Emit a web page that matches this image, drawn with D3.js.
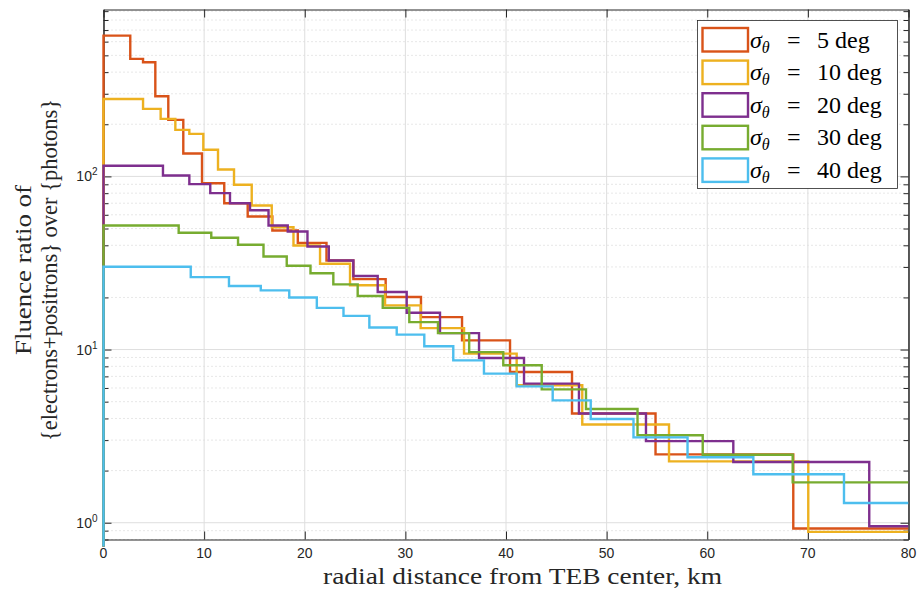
<!DOCTYPE html>
<html>
<head>
<meta charset="utf-8">
<script src="https://cdn.jsdelivr.net/npm/d3@7"></script>
<style>
  body { margin: 0; background: #fff; }
  svg { display: block; }
</style>
</head>
<body>
<svg id="chart" width="923" height="592"></svg>
<script>
// sigma_theta labels, in deg
const sigmaLabels = ['5', '10', '20', '30', '40']
const seriesColors = ['#D95319', '#EDB120', '#7E2F8E', '#77AC30', '#4DBEEE']

// bin edges (km) and fluence ratio per bin
const edges5 = [0, 2.66, 3.93, 5.15, 6.44, 7.93, 9.79, 12.0, 14.33, 16.78, 19.31, 22.16, 24.83, 28.04, 31.55, 35.63, 40.40, 46.56, 54.86, 68.55, 80]
const ratio5 = [650, 477, 456, 290, 212, 135.6, 91.3, 70.0, 58.7, 48.7, 41.3, 32.7, 25.5, 20.1, 15.4, 11.3, 7.42, 4.27, 2.48, 0.926]

const edges10 = [0, 3.93, 5.68, 7.14, 8.53, 9.92, 11.38, 12.97, 14.73, 16.72, 18.88, 21.52, 24.5, 27.98, 31.52, 35.83, 41.06, 47.58, 56.2, 70.04, 80]
const ratio10 = [280, 245.5, 215, 185.7, 176.1, 142.4, 109.6, 89.4, 67.9, 50.9, 39.9, 31.3, 23.5, 18.0, 13.3, 9.47, 6.22, 3.69, 2.26, 0.885]

const edges20 = [0, 5.91, 8.53, 10.61, 12.57, 14.56, 16.4, 18.31, 20.27, 22.39, 24.83, 27.25, 30.13, 33.44, 37.32, 41.79, 47.25, 53.91, 62.59, 76.1, 80]
const ratio20 = [115.1, 101.2, 90.2, 80.0, 70.0, 63.7, 52.1, 48.1, 39.4, 32.7, 26.6, 21.5, 16.3, 12.45, 8.93, 6.36, 4.27, 2.96, 2.24, 0.954]

const edges30 = [0, 7.47, 10.71, 13.37, 15.9, 18.21, 20.57, 22.84, 25.26, 27.75, 30.39, 33.24, 36.34, 39.73, 43.55, 47.95, 53.07, 59.55, 68.49, 80]
const ratio30 = [52.1, 47.3, 44.2, 40.3, 34.5, 30.5, 27.6, 23.8, 20.4, 17.4, 14.4, 12.45, 9.67, 8.11, 5.89, 4.54, 3.20, 2.47, 1.71]

const edges40 = [0, 8.67, 12.47, 15.63, 18.46, 21.2, 23.85, 26.42, 29.14, 31.88, 34.76, 37.81, 41.06, 44.64, 48.42, 52.67, 58.04, 64.58, 73.59, 80]
const ratio40 = [30.1, 26.2, 23.3, 21.96, 20.0, 17.4, 15.65, 13.4, 12.2, 10.44, 8.66, 7.26, 6.13, 5.09, 3.97, 3.11, 2.39, 1.905, 1.30]

const xTicks = [0, 10, 20, 30, 40, 50, 60, 70, 80]
const yMajor = [1, 10, 100]
const yMinor = [0.8, 0.9, 2, 3, 4, 5, 6, 7, 8, 9, 20, 30, 40, 50, 60, 70, 80, 90, 200, 300, 400, 500, 600, 700, 800, 900]

const series = [
  { edges: edges5, vals: ratio5 },
  { edges: edges10, vals: ratio10 },
  { edges: edges20, vals: ratio20 },
  { edges: edges30, vals: ratio30 },
  { edges: edges40, vals: ratio40 }
]

const svg = d3.select('#chart')
const margin = { top: 9.5, left: 103.5 }
const innerW = 805
const innerH = 530
const axisColor = '#262626'

const x = d3.scaleLinear().domain([0, 80]).range([0, innerW])
const y = d3.scaleLog().domain([0.8, 920]).range([innerH, 0])

const root = svg.append('g').attr('transform', `translate(${margin.left},${margin.top})`)

// grid
root.append('g').selectAll('line').data(yMinor).join('line')
  .attr('x1', 0).attr('x2', innerW)
  .attr('y1', d => y(d)).attr('y2', d => y(d))
  .attr('stroke', '#c4c4c4').attr('stroke-width', 0.8).attr('stroke-dasharray', '1,3')
root.append('g').selectAll('line').data(yMajor).join('line')
  .attr('x1', 0).attr('x2', innerW)
  .attr('y1', d => y(d)).attr('y2', d => y(d))
  .attr('stroke', '#dedede').attr('stroke-width', 1)
root.append('g').selectAll('line').data(xTicks).join('line')
  .attr('x1', d => x(d)).attr('x2', d => x(d))
  .attr('y1', 0).attr('y2', innerH)
  .attr('stroke', '#dedede').attr('stroke-width', 1)

// axes with inward ticks on all four sides
function styleAxis(g) {
  g.selectAll('path').attr('stroke', axisColor).attr('stroke-width', 1)
  g.selectAll('line').attr('stroke', axisColor).attr('stroke-width', 1)
  g.selectAll('text').remove()
}
root.append('g').attr('transform', `translate(0,${innerH})`)
  .call(d3.axisBottom(x).tickValues(xTicks).tickSizeInner(-8).tickSizeOuter(0)).call(styleAxis)
root.append('g')
  .call(d3.axisTop(x).tickValues(xTicks).tickSizeInner(-8).tickSizeOuter(0)).call(styleAxis)
root.append('g')
  .call(d3.axisLeft(y).tickValues(yMajor).tickSizeInner(-8).tickSizeOuter(0)).call(styleAxis)
root.append('g')
  .call(d3.axisLeft(y).tickValues(yMinor).tickSizeInner(-5).tickSizeOuter(0)).call(styleAxis)
root.append('g').attr('transform', `translate(${innerW},0)`)
  .call(d3.axisRight(y).tickValues(yMajor).tickSizeInner(-8).tickSizeOuter(0)).call(styleAxis)
root.append('g').attr('transform', `translate(${innerW},0)`)
  .call(d3.axisRight(y).tickValues(yMinor).tickSizeInner(-5).tickSizeOuter(0)).call(styleAxis)

// tick labels
root.append('g').selectAll('text').data(xTicks).join('text')
  .attr('x', d => x(d)).attr('y', innerH + 18)
  .attr('text-anchor', 'middle')
  .attr('font-family', 'Liberation Sans, Arial, sans-serif').attr('font-size', '14px')
  .attr('fill', axisColor)
  .text(d => d)

const yLab = root.append('g').selectAll('text').data(yMajor).join('text')
  .attr('x', -6).attr('y', d => y(d) + 5)
  .attr('text-anchor', 'end')
  .attr('font-family', 'Liberation Sans, Arial, sans-serif').attr('font-size', '14px')
  .attr('fill', axisColor)
yLab.append('tspan').text('10')
yLab.append('tspan').attr('dy', -6).attr('font-size', '10px').text(d => Math.round(Math.log10(d)))

// stair lines
root.append('clipPath').attr('id', 'clip')
  .append('rect').attr('x', -2).attr('y', 0).attr('width', innerW + 2).attr('height', innerH + 7)

const line = d3.line()
  .x(d => x(d.x))
  .y(d => y(d.y))
  .curve(d3.curveStepAfter)

series.forEach((s, i) => {
  const pts = [{ x: 0, y: 0.4 }]
  s.vals.forEach((v, j) => pts.push({ x: s.edges[j], y: v }))
  pts.push({ x: s.edges[s.edges.length - 1], y: s.vals[s.vals.length - 1] })
  root.append('path')
    .datum(pts)
    .attr('clip-path', 'url(#clip)')
    .attr('fill', 'none')
    .attr('stroke', seriesColors[i])
    .attr('stroke-width', 2.4)
    .attr('stroke-linejoin', 'miter')
    .attr('d', line)
})

// axis labels
const serif = 'Liberation Serif, Times New Roman, serif'
svg.append('text')
  .attr('x', 323).attr('y', 584)
  .attr('font-family', serif).attr('font-size', '23px').attr('fill', axisColor)
  .attr('textLength', 399).attr('lengthAdjust', 'spacingAndGlyphs')
  .text('radial distance from TEB center, km')

const yTitle = svg.append('g').attr('transform', 'translate(0,270) rotate(-90)')
yTitle.append('text')
  .attr('x', -85).attr('y', 31)
  .attr('font-family', serif).attr('font-size', '23px').attr('fill', axisColor)
  .attr('textLength', 170).attr('lengthAdjust', 'spacingAndGlyphs')
  .text('Fluence ratio of')
yTitle.append('text')
  .attr('x', -171).attr('y', 57)
  .attr('font-family', serif).attr('font-size', '22.5px').attr('fill', axisColor)
  .attr('textLength', 342).attr('lengthAdjust', 'spacingAndGlyphs')
  .text('{electrons+positrons} over {photons}')

// legend
const lg = svg.append('g').attr('transform', 'translate(697.5,20.5)')
lg.append('rect')
  .attr('width', 200).attr('height', 168)
  .attr('fill', '#fff').attr('stroke', axisColor).attr('stroke-width', 0.8)
sigmaLabels.forEach((lab, i) => {
  const cy = 19 + i * 32.6
  lg.append('rect')
    .attr('x', 5).attr('y', cy - 11.5)
    .attr('width', 45.5).attr('height', 23.5)
    .attr('fill', '#fff').attr('stroke', seriesColors[i]).attr('stroke-width', 2.4)
  const t = lg.append('text')
    .attr('y', cy + 8)
    .attr('font-family', serif).attr('font-size', '24px').attr('fill', '#000')
  t.append('tspan').attr('x', 52.5).attr('font-style', 'italic').text('σ')
  t.append('tspan').attr('font-style', 'italic').attr('font-size', '16px').attr('dy', 5).text('θ')
  t.append('tspan').attr('x', 89.5).attr('dy', -5).text('=')
  t.append('tspan').attr('x', 119.5).text(lab + ' deg')
})
</script>
</body>
</html>
